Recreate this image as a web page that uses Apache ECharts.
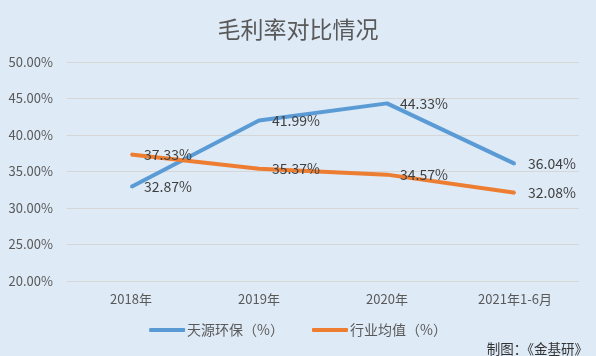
<!DOCTYPE html>
<html><head><meta charset="utf-8">
<script src="https://cdn.jsdelivr.net/npm/echarts@6/dist/echarts.min.js"></script>
<style>html,body{margin:0;padding:0;background:#deeaf6;}#c{width:596px;height:356px;}</style>
</head><body><div id="c"></div>
<script>
const categories = ['2018年', '2019年', '2020年', '2021年1-6月'];
const tianyuan = [32.87, 41.99, 44.33, 36.04];
const industry = [37.33, 35.37, 34.57, 32.08];
const seriesNames = ['天源环保（%）', '行业均值（%）'];
const titleText = '毛利率对比情况';
const footerText = '制图：《金基研》';

const font = '"Noto Sans CJK SC",sans-serif';
const chart = echarts.init(document.getElementById('c'), null, {renderer: 'canvas'});
const labelCfg = {
  show: true, position: 'right', distance: 12,
  formatter: p => p.value.toFixed(2) + '%',
  color: '#404040', fontSize: 14, fontFamily: font
};
chart.setOption({
  backgroundColor: '#deeaf6',
  animation: false,
  title: [{
    text: titleText, left: 'center', top: 13,
    textStyle: {fontSize: 23, fontWeight: 'normal', color: '#595959', fontFamily: font}
  }, {
    text: footerText, right: 3, top: 337,
    textStyle: {fontSize: 13.5, fontWeight: 'normal', color: '#333333', fontFamily: font}
  }],
  legend: {
    bottom: 14, left: 'center', itemWidth: 36, itemHeight: 4, itemGap: 28,
    icon: 'roundRect',
    textStyle: {fontSize: 14, color: '#595959', fontFamily: font, padding: [0, 0, 0, -3]},
    data: seriesNames
  },
  grid: {left: 67, right: 17, top: 62, bottom: 75},
  xAxis: {
    type: 'category', data: categories, boundaryGap: true,
    axisLine: {show: false}, axisTick: {show: false},
    axisLabel: {color: '#595959', fontSize: 13, fontFamily: font, margin: 12}
  },
  yAxis: {
    type: 'value', min: 20, max: 50, interval: 5,
    axisLine: {show: false}, axisTick: {show: false},
    axisLabel: {color: '#595959', fontSize: 13, fontFamily: font, margin: 14,
      formatter: v => v.toFixed(2) + '%'},
    splitLine: {lineStyle: {color: '#d6d6d6', width: 1}}
  },
  series: [{
    name: seriesNames[0], type: 'line', data: tianyuan,
    symbol: 'circle', symbolSize: 2, color: '#5b9bd5',
    lineStyle: {width: 4, color: '#5b9bd5'}, label: labelCfg
  }, {
    name: seriesNames[1], type: 'line', data: industry,
    symbol: 'circle', symbolSize: 2, color: '#ed7d31',
    lineStyle: {width: 4, color: '#ed7d31'}, label: labelCfg
  }]
});
</script></body></html>
